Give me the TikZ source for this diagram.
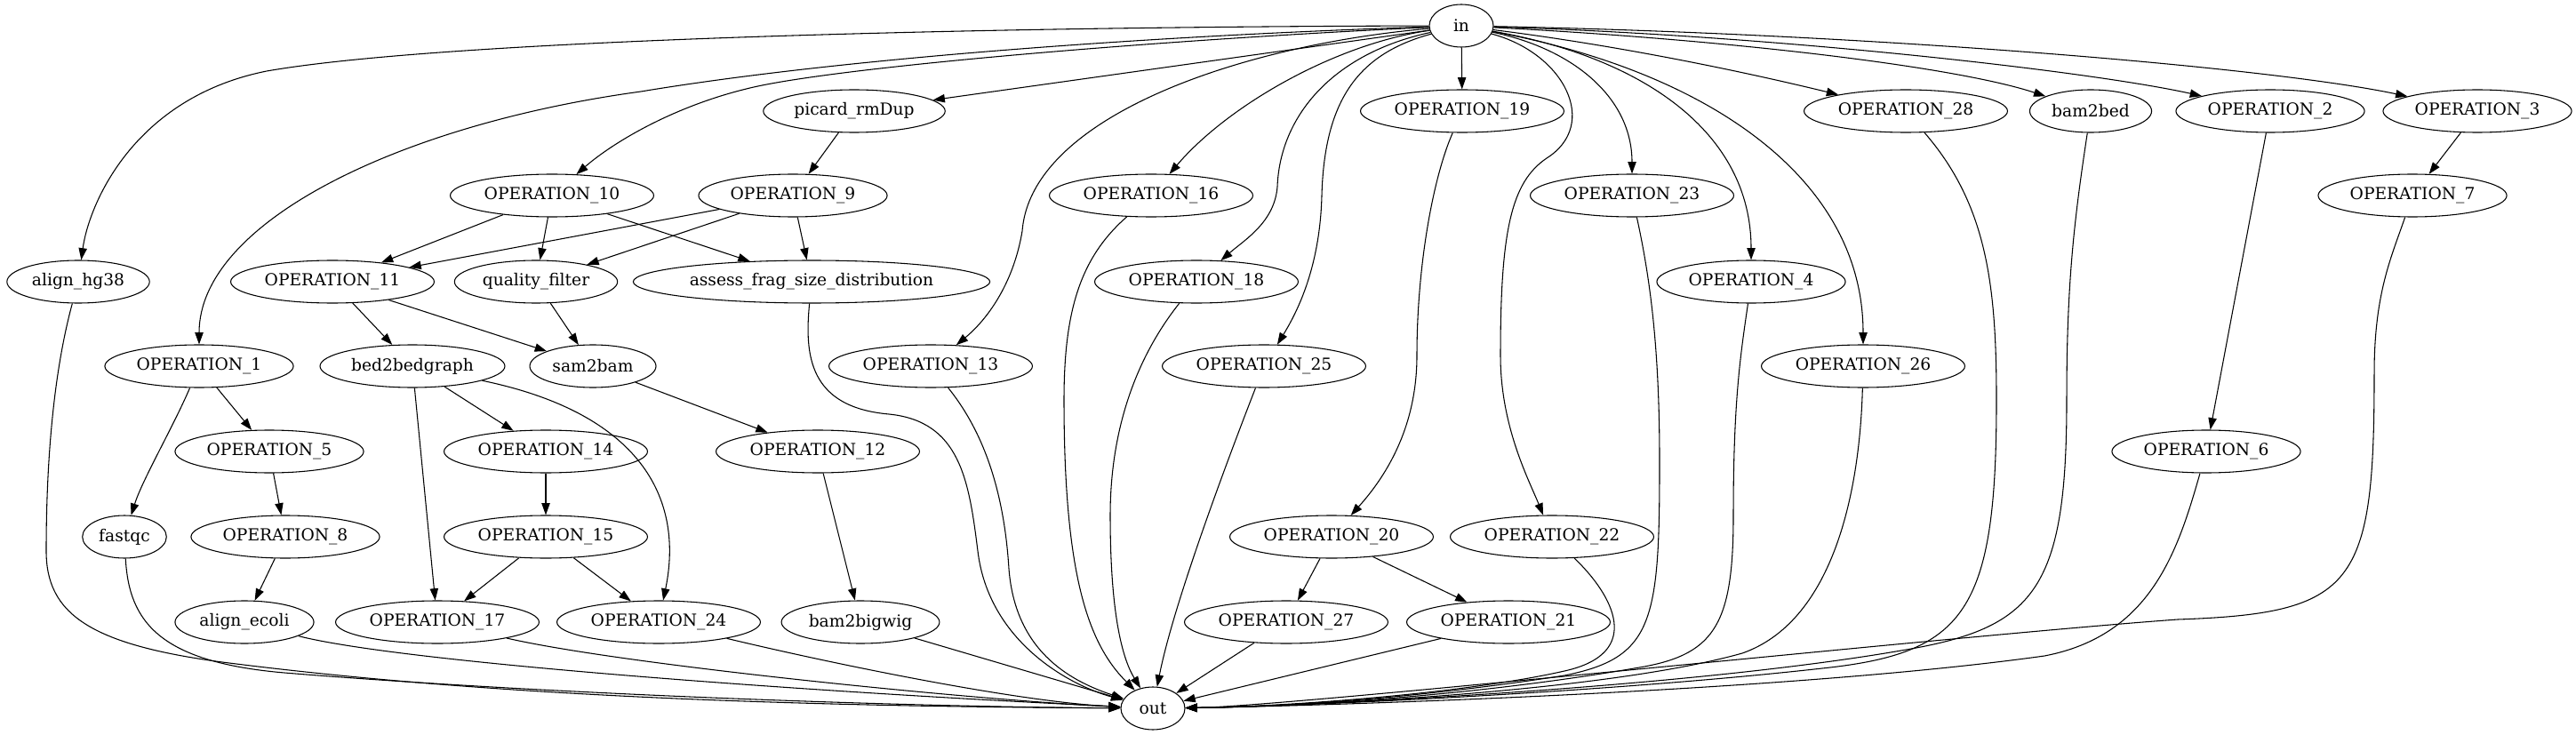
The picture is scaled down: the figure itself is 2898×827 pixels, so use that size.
\documentclass[tikz,border=0pt]{standalone}
\usepackage{fontspec}
\setmainfont{DejaVu Serif}
\usepackage{tikz}
\usetikzlibrary{shapes.geometric}
\usetikzlibrary{arrows.meta}
\tikzset{op/.style={ellipse,draw=black,line width=0.8pt,inner xsep=3.5pt,inner ysep=2pt,minimum width=54pt,minimum height=36pt,font=\fontsize{14}{16}\selectfont}, flow/.style={draw=black,line width=0.8pt,-{Triangle[length=10pt,width=7pt]}}}

\begin{document}
\begin{tikzpicture}[x=0.75pt,y=-0.75pt]
\useasboundingbox (0,0) rectangle (2898,827);
\node[op] (in) at (1644,29) {in};
\node[op] (out) at (1297,797) {out};
\node[op] (picard) at (961,125) {picard\_rmDup};
\node[op] (op19) at (1645,125) {OPERATION\_19};
\node[op] (op28) at (2144,125) {OPERATION\_28};
\node[op] (bam2bed) at (2352,125) {bam2bed};
\node[op] (op2) at (2554,125) {OPERATION\_2};
\node[op] (op3) at (2787,125) {OPERATION\_3};
\node[op] (op10) at (621,220) {OPERATION\_10};
\node[op] (op9) at (892,220) {OPERATION\_9};
\node[op] (op16) at (1295,220) {OPERATION\_16};
\node[op] (op23) at (1836,220) {OPERATION\_23};
\node[op] (op7) at (2714,220) {OPERATION\_7};
\node[op] (hg38) at (88,317) {align\_hg38};
\node[op] (op11) at (374,317) {OPERATION\_11};
\node[op] (qfilter) at (603,317) {quality\_filter};
\node[op] (assess) at (913,317) {assess\_frag\_size\_distribution};
\node[op] (op18) at (1346,317) {OPERATION\_18};
\node[op] (op4) at (1970,317) {OPERATION\_4};
\node[op] (op1) at (224,412) {OPERATION\_1};
\node[op] (bed2bg) at (464,412) {bed2bedgraph};
\node[op] (sam2bam) at (667,412) {sam2bam};
\node[op] (op13) at (1047,412) {OPERATION\_13};
\node[op] (op25) at (1422,412) {OPERATION\_25};
\node[op] (op26) at (2096,412) {OPERATION\_26};
\node[op] (op5) at (303,508) {OPERATION\_5};
\node[op] (op14) at (614,508) {OPERATION\_14};
\node[op] (op12) at (920,508) {OPERATION\_12};
\node[op] (op6) at (2482,508) {OPERATION\_6};
\node[op] (fastqc) at (140,604) {fastqc};
\node[op] (op8) at (321,604) {OPERATION\_8};
\node[op] (op15) at (614,604) {OPERATION\_15};
\node[op] (op20) at (1498,604) {OPERATION\_20};
\node[op] (op22) at (1746,604) {OPERATION\_22};
\node[op] (ecoli) at (275,700) {align\_ecoli};
\node[op] (op17) at (492,700) {OPERATION\_17};
\node[op] (op24) at (741,700) {OPERATION\_24};
\node[op] (bigwig) at (968,700) {bam2bigwig};
\node[op] (op27) at (1447,700) {OPERATION\_27};
\node[op] (op21) at (1697,700) {OPERATION\_21};
\draw[flow] (in) .. controls (1100,30) and (500,45) .. (300,80) .. controls (150,110) and (100,230) .. (hg38);
\draw[flow] (in) .. controls (1300,40) and (950,65) .. (721,103) .. controls (450,140) and (224,250) .. (op1);
\draw[flow] (in) .. controls (1300,45) and (950,75) .. (848,98) .. controls (760,118) and (690,160) .. (op10);
\draw[flow] (in) -- (picard);
\draw[flow] (in) .. controls (1400,50) and (1160,130) .. (1150,260) .. controls (1140,320) and (1110,360) .. (op13);
\draw[flow] (in) .. controls (1500,50) and (1380,120) .. (op16);
\draw[flow] (in) .. controls (1500,60) and (1440,130) .. (1437,210) .. controls (1434,250) and (1400,270) .. (op18);
\draw[flow] (in) .. controls (1530,60) and (1490,110) .. (1487,220) .. controls (1485,300) and (1460,350) .. (op25);
\draw[flow] (in) -- (op19);
\draw[flow] (in) .. controls (1760,60) and (1800,140) .. (1740,178) .. controls (1700,205) and (1688,260) .. (1688,400) .. controls (1688,480) and (1720,540) .. (op22);
\draw[flow] (in) .. controls (1770,55) and (1836,110) .. (op23);
\draw[flow] (in) .. controls (1850,65) and (1970,150) .. (op4);
\draw[flow] (in) .. controls (1920,80) and (2096,200) .. (op26);
\draw[flow] (in) .. controls (1850,55) and (2000,90) .. (op28);
\draw[flow] (in) .. controls (1950,45) and (2200,75) .. (bam2bed);
\draw[flow] (in) .. controls (2000,40) and (2350,80) .. (op2);
\draw[flow] (in) .. controls (2100,38) and (2550,75) .. (op3);
\draw[flow] (picard) -- (op9);
\draw[flow] (op10) -- (op11);
\draw[flow] (op10) -- (qfilter);
\draw[flow] (op10) -- (assess);
\draw[flow] (op9) -- (op11);
\draw[flow] (op9) -- (qfilter);
\draw[flow] (op9) -- (assess);
\draw[flow] (op11) -- (bed2bg);
\draw[flow] (op11) -- (sam2bam);
\draw[flow] (qfilter) -- (sam2bam);
\draw[flow] (op1) -- (op5);
\draw[flow] (op1) .. controls (195,480) and (160,540) .. (fastqc);
\draw[flow] (op5) -- (op8);
\draw[flow] (op8) -- (ecoli);
\draw[flow] (bed2bg) -- (op14);
\draw[flow] (bed2bg) -- (op17);
\draw[flow] (bed2bg) .. controls (720,465) and (770,560) .. (op24);
\draw[flow] (op14) -- (op15);
\draw[flow] (op15) -- (op17);
\draw[flow] (op15) -- (op24);
\draw[flow] (sam2bam) -- (op12);
\draw[flow] (op12) -- (bigwig);
\draw[flow] (op19) .. controls (1612,200) and (1594,300) .. (1594,400) .. controls (1594,480) and (1560,535) .. (op20);
\draw[flow] (op20) -- (op27);
\draw[flow] (op20) -- (op21);
\draw[flow] (op2) -- (op6);
\draw[flow] (op3) -- (op7);
\draw[flow] (hg38) .. controls (60,420) and (52,520) .. (52,620) .. controls (52,690) and (100,725) .. (250,745) .. controls (600,790) and (1000,795) .. (out);
\draw[flow] (fastqc) .. controls (145,700) and (180,745) .. (320,757) .. controls (600,780) and (1000,795) .. (out);
\draw[flow] (ecoli) .. controls (450,745) and (900,778) .. (out);
\draw[flow] (op17) .. controls (700,748) and (1100,788) .. (out);
\draw[flow] (op24) .. controls (950,750) and (1150,790) .. (out);
\draw[flow] (bigwig) -- (out);
\draw[flow] (assess) .. controls (905,400) and (910,458) .. (1000,466) .. controls (1080,474) and (1090,540) .. (1100,620) .. controls (1112,720) and (1200,770) .. (out);
\draw[flow] (op13) .. controls (1110,490) and (1130,560) .. (1135,640) .. controls (1142,730) and (1200,765) .. (out);
\draw[flow] (op16) .. controls (1215,290) and (1197,350) .. (1197,450) .. controls (1197,650) and (1225,725) .. (out);
\draw[flow] (op18) .. controls (1280,400) and (1249,480) .. (1249,580) .. controls (1249,700) and (1265,745) .. (out);
\draw[flow] (op25) .. controls (1380,520) and (1320,680) .. (out);
\draw[flow] (op27) -- (out);
\draw[flow] (op21) -- (out);
\draw[flow] (op22) .. controls (1815,670) and (1850,735) .. (1760,755) .. controls (1650,780) and (1450,795) .. (out);
\draw[flow] (op23) .. controls (1858,320) and (1867,400) .. (1867,520) .. controls (1867,700) and (1860,740) .. (1760,760) .. controls (1600,785) and (1450,795) .. (out);
\draw[flow] (op4) .. controls (1958,400) and (1950,450) .. (1950,580) .. controls (1950,700) and (1930,735) .. (1850,750) .. controls (1650,785) and (1450,795) .. (out);
\draw[flow] (op26) .. controls (2092,560) and (2060,700) .. (1960,735) .. controls (1800,780) and (1450,795) .. (out);
\draw[flow] (op28) .. controls (2235,230) and (2246,320) .. (2246,450) .. controls (2246,690) and (2210,735) .. (2050,752) .. controls (1800,780) and (1450,795) .. (out);
\draw[flow] (bam2bed) .. controls (2333,250) and (2325,320) .. (2325,450) .. controls (2325,660) and (2290,705) .. (2150,730) .. controls (1900,775) and (1450,795) .. (out);
\draw[flow] (op6) .. controls (2450,620) and (2420,715) .. (2300,738) .. controls (2000,780) and (1450,795) .. (out);
\draw[flow] (op7) .. controls (2690,290) and (2671,330) .. (2671,420) .. controls (2671,660) and (2650,690) .. (2450,697) .. controls (2200,715) and (1450,795) .. (out);
\end{tikzpicture}
\end{document}
